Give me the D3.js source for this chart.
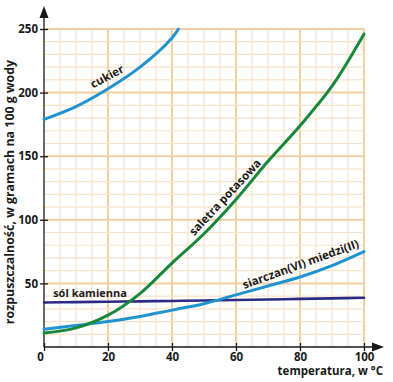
<!DOCTYPE html>
<html><head><meta charset="utf-8">
<script src="https://cdn.jsdelivr.net/npm/d3@7"></script>
<style>body{margin:0;background:#fff}svg{display:block}text{font-family:"Open Sans",sans-serif;font-weight:700;fill:#1a1a1a}</style>
</head><body><svg id="c" width="393" height="382"></svg>
<script>
const temps = [0,10,20,30,40,50,60,70,80,90,100];
const cukierT = [0,10,20,30,40,42];
const cukier = [179,189,203,220,243,250];
const saletra = [11,15,25,42,66,89,116,146,174,205,246];
const siarczan = [14,17,20,24,29,34,41,48,55,64,75];
const sol = [35,35.3,35.6,35.9,36.2,36.6,37,37.4,37.8,38.2,38.7];
const xTicks = [0,20,40,60,80,100];
const yTicks = [50,100,150,200,250];

const svg = d3.select("#c");
const x = d3.scaleLinear().domain([0,100]).range([44,364]);
const y = d3.scaleLinear().domain([0,250]).range([347,29]);

const g = svg.append("g");
g.selectAll(".vm").data(d3.range(5,101,5)).enter().append("line")
 .attr("x1",d=>x(d)).attr("x2",d=>x(d)).attr("y1",y(0)).attr("y2",y(250))
 .attr("stroke",d=>d%20===0?"#f2cfa2":"#f8e2c8").attr("stroke-width",d=>d%20===0?2:1.2);
g.selectAll(".hm").data(d3.range(10,251,10)).enter().append("line")
 .attr("y1",d=>y(d)).attr("y2",d=>y(d)).attr("x1",x(0)).attr("x2",x(100))
 .attr("stroke",d=>d%50===0?"#f2cfa2":"#f8e2c8").attr("stroke-width",d=>d%50===0?2:1.2);

const ax = svg.append("g").attr("transform",`translate(0,${y(0)})`)
 .call(d3.axisBottom(x).tickValues(xTicks).tickSizeOuter(0));
ax.select(".domain").remove();
ax.selectAll(".tick line").attr("y1",-4).attr("y2",4).attr("stroke","#1a1a1a").attr("stroke-width",1.3);
ax.selectAll(".tick text").attr("y",14).attr("dy",0).style("font-size","11.5px").style("font-family","Open Sans").style("font-weight","700")
 .attr("dx",d=>d===0?-4:0);
const ay = svg.append("g").attr("transform",`translate(${x(0)},0)`)
 .call(d3.axisLeft(y).tickValues(yTicks).tickSizeOuter(0));
ay.select(".domain").remove();
ay.selectAll(".tick line").attr("x1",-4).attr("x2",4).attr("stroke","#1a1a1a").attr("stroke-width",1.3);
ay.selectAll(".tick text").attr("x",-6).style("font-size","11.5px").style("font-family","Open Sans").style("font-weight","700");

svg.append("line").attr("x1",x(0)).attr("x2",x(0)).attr("y1",y(0)).attr("y2",14).attr("stroke","#1a1a1a").attr("stroke-width",1.3);
svg.append("path").attr("d",`M${x(0)},6 L${x(0)-4.5},18 L${x(0)+4.5},18 Z`).attr("fill","#1a1a1a");
svg.append("line").attr("x1",x(0)).attr("x2",378).attr("y1",y(0)).attr("y2",y(0)).attr("stroke","#1a1a1a").attr("stroke-width",1.3);
svg.append("path").attr("d",`M384,${y(0)} L372,${y(0)-4.5} L372,${y(0)+4.5} Z`).attr("fill","#1a1a1a");

const line = d3.line().x(d=>x(d[0])).y(d=>y(d[1])).curve(d3.curveCatmullRom);
function draw(ts, vs, col, w){
  svg.append("path").datum(ts.map((t,i)=>[t,vs[i]])).attr("d",line)
   .attr("fill","none").attr("stroke",col).attr("stroke-width",w).attr("stroke-linecap","round");
}
draw(temps, sol, "#2b2a85", 2.6);
draw(temps, siarczan, "#1f93cf", 3);
draw(temps, saletra, "#17883a", 3);
draw(cukierT, cukier, "#1f93cf", 3);

function lab(txt, cx, cy, ang, size, anchor){
  svg.append("text").attr("transform",`translate(${cx},${cy}) rotate(${ang})`)
   .attr("text-anchor",anchor||"middle").style("font-size",size+"px").text(txt);
}
lab("cukier", 109, 80, -28, 11.5);
lab("saletra potasowa", 228, 200, -47, 11.5);
lab("sól kamienna", 90, 297, 0, 11);
lab("siarczan(VI) miedzi(II)", 302, 268, -20, 11.5);
svg.append("text").attr("x",383).attr("y",375).attr("text-anchor","end").style("font-size","11.5px").text("temperatura, w °C");
svg.append("text").attr("transform","translate(14,192) rotate(-90)").attr("text-anchor","middle").style("font-size","12.4px").text("rozpuszczalność, w gramach na 100 g wody");
</script></body></html>
